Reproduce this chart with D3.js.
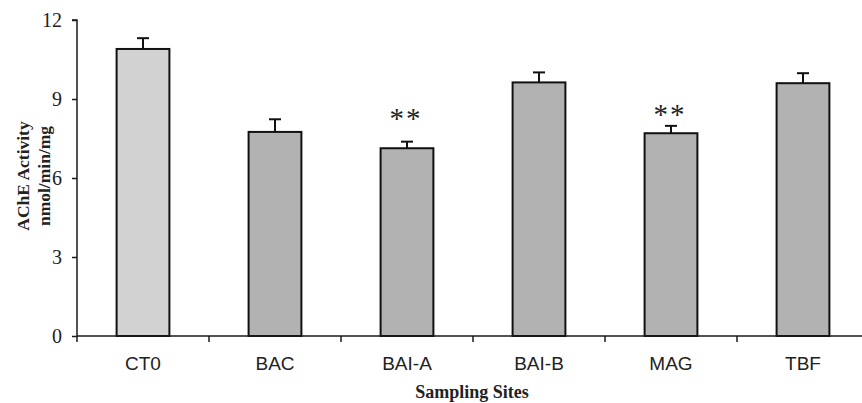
<!DOCTYPE html>
<html>
<head>
<meta charset="utf-8">
<script src="https://cdn.jsdelivr.net/npm/d3@7"></script>
<style>
  html, body { margin: 0; padding: 0; background: #fff; }
  svg { display: block; }
</style>
</head>
<body>
<svg id="chart" width="862" height="403"></svg>
<script>
// AChE activity by sampling site (mean with upward SE whisker)
const sites = ["CT0", "BAC", "BAI-A", "BAI-B", "MAG", "TBF"];
const activity = [10.9, 7.75, 7.13, 9.63, 7.7, 9.6];
const errors = [0.41, 0.48, 0.25, 0.38, 0.28, 0.38];
const significance = ["", "", "**", "", "**", ""];
const markHeights = [null, null, 7.9, null, 8.05, null];
const yTicks = [0, 3, 6, 9, 12];

const svg = d3.select("#chart");
const margin = { left: 77, top: 20, bottom: 67 };
const height = 403;
const plotRight = 77 + 132 * sites.length;

const x = d3.scaleBand()
  .domain(sites)
  .range([margin.left, plotRight])
  .paddingInner(0.6)
  .paddingOuter(0.3);

const y = d3.scaleLinear()
  .domain([0, 12])
  .range([height - margin.bottom, margin.top]);

const axisColor = "#1a1a1a";

// bars
svg.append("g")
  .selectAll("rect")
  .data(sites)
  .join("rect")
  .attr("x", d => x(d))
  .attr("y", (d, i) => y(activity[i]))
  .attr("width", x.bandwidth())
  .attr("height", (d, i) => y(0) - y(activity[i]))
  .attr("fill", (d, i) => i === 0 ? "#d2d2d2" : "#b2b2b2")
  .attr("stroke", "#111")
  .attr("stroke-width", 2);

// error whiskers (upper only)
const err = svg.append("g").attr("stroke", "#111").attr("stroke-width", 2);
sites.forEach((s, i) => {
  const cx = x(s) + x.bandwidth() / 2;
  err.append("line")
    .attr("x1", cx).attr("x2", cx)
    .attr("y1", y(activity[i])).attr("y2", y(activity[i] + errors[i]));
  err.append("line")
    .attr("x1", cx - 6).attr("x2", cx + 6)
    .attr("y1", y(activity[i] + errors[i])).attr("y2", y(activity[i] + errors[i]));
});

// significance marks
svg.append("g")
  .selectAll("text")
  .data(sites)
  .join("text")
  .attr("x", d => x(d) + x.bandwidth() / 2 - 1)
  .attr("y", (d, i) => markHeights[i] == null ? 0 : y(markHeights[i]))
  .attr("text-anchor", "middle")
  .attr("font-family", "'Liberation Serif', 'Times New Roman', serif")
  .attr("font-size", 29)
  .attr("letter-spacing", 2)
  .attr("fill", "#222")
  .text((d, i) => significance[i]);

// y axis
const yAxis = d3.axisLeft(y).tickValues(yTicks).tickSize(5).tickPadding(10);
const gy = svg.append("g")
  .attr("transform", `translate(${margin.left},0)`)
  .call(yAxis);
gy.select(".domain").attr("stroke", axisColor).attr("stroke-width", 1.5)
  .attr("d", `M-5,${y(12)}H0V${y(0)}`);
gy.selectAll(".tick line").attr("stroke", axisColor).attr("stroke-width", 1.5);
gy.selectAll(".tick text")
  .attr("font-family", "'Liberation Serif', 'Times New Roman', serif")
  .attr("font-size", 20)
  .attr("fill", "#222");

// x axis: baseline with ticks at category boundaries
const gx = svg.append("g");
gx.append("line")
  .attr("x1", margin.left).attr("x2", plotRight)
  .attr("y1", y(0)).attr("y2", y(0))
  .attr("stroke", axisColor).attr("stroke-width", 1.5);
const step = x.step();
d3.range(sites.length + 1).forEach(k => {
  const bx = margin.left + k * step;
  gx.append("line")
    .attr("x1", bx).attr("x2", bx)
    .attr("y1", y(0)).attr("y2", y(0) + 6)
    .attr("stroke", axisColor).attr("stroke-width", 1.5);
});
gx.selectAll("text")
  .data(sites)
  .join("text")
  .attr("x", d => x(d) + x.bandwidth() / 2)
  .attr("y", 370)
  .attr("text-anchor", "middle")
  .attr("font-family", "'Liberation Sans', Arial, sans-serif")
  .attr("font-size", 19)
  .attr("fill", "#222")
  .text(d => d);

// axis titles
svg.append("text")
  .attr("x", 472)
  .attr("y", 398)
  .attr("text-anchor", "middle")
  .attr("font-family", "'Liberation Serif', 'Times New Roman', serif")
  .attr("font-weight", "bold")
  .attr("font-size", 18)
  .attr("fill", "#222")
  .text("Sampling Sites");

const yTitle = svg.append("text")
  .attr("transform", "translate(0,176) rotate(-90)")
  .attr("text-anchor", "middle")
  .attr("font-family", "'Liberation Serif', 'Times New Roman', serif")
  .attr("font-weight", "bold")
  .attr("font-size", 17.5)
  .attr("fill", "#222");
yTitle.append("tspan").attr("x", 0).attr("y", 29).text("AChE Activity");
yTitle.append("tspan").attr("x", 0).attr("y", 50).text("nmol/min/mg");
</script>
</body>
</html>
